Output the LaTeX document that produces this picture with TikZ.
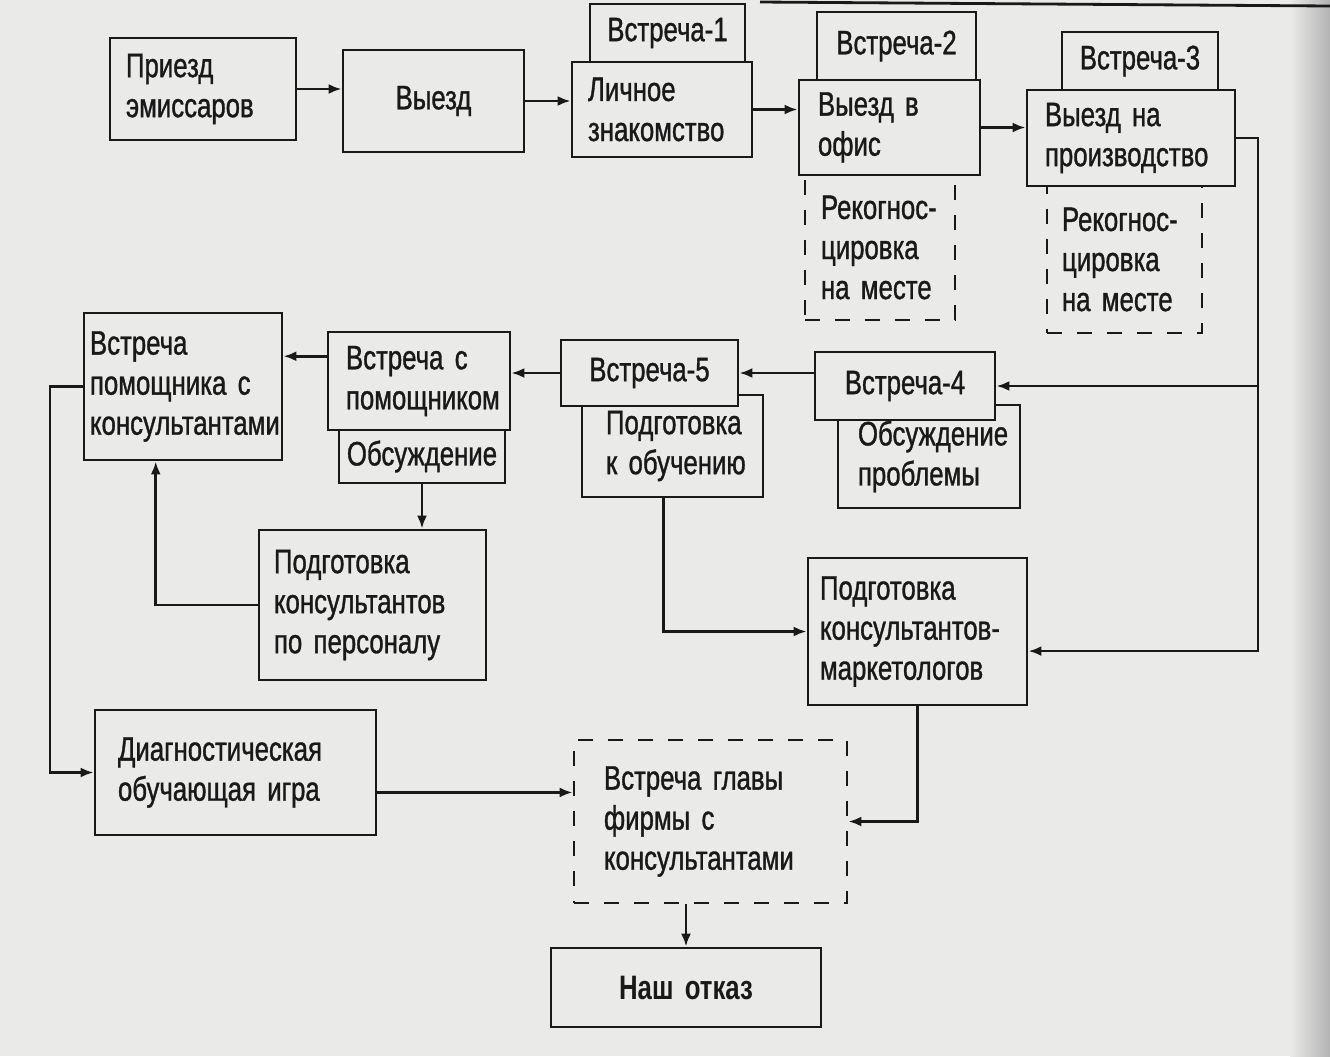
\documentclass[tikz,border=0pt]{standalone}
\usepackage{fontspec}
\setmainfont{Liberation Sans}[FakeStretch=0.76,UprightFeatures={FakeBold=1}]
\usepackage{tikz}
\usetikzlibrary{arrows.meta}
\definecolor{paper}{RGB}{234,234,232}
\definecolor{ink}{RGB}{25,25,25}
\newcommand{\mkbox}[8][]{% #1: extra style, #2: name, #3: x1, #4: y1, #5: x2, #6: y2, #7: inset, #8: text
	\pgfmathsetmacro\bxw{(#5-#3)*0.02}
	\pgfmathsetmacro\bxh{(#6-#4)*0.02}
	\pgfmathsetmacro\bxt{(#5-#3-2*#7)*0.02}
	\node[box,minimum width=\bxw cm,minimum height=\bxh cm,text width=\bxt cm,#1] (#2) at ({(#3+#5)/2},{(#4+#6)/2}) {#8};
}
\tikzset{
	box/.style={draw=ink,line width=1.6pt,fill=paper,text=ink,inner xsep=0pt,inner ysep=0pt,align=left,font=\fontsize{19.3}{22.8}\selectfont},
	dbox/.style={box,dash pattern=on 0.3cm off 0.3cm},
	line/.style={draw=ink,line width=1.6pt}
}

\begin{document}
\begin{tikzpicture}[x=0.02cm,y=-0.02cm,>={Latex[length=0.26cm,width=0.2cm]}]
					% Paper
					\fill[paper] (0,0) rectangle (1330,1056);
					\shade[left color=paper,right color=gray!60] (1290,0) rectangle (1330,1056);
					\useasboundingbox (0,0) rectangle (1330,1056);
					\draw[line] (760,2) -- (1330,6);
					
					% Top row
					\mkbox{priezd}{110}{38}{296}{140}{16}{Приезд\\эмиссаров}
					\mkbox[align=center]{vyezd}{343}{50}{524}{152}{0}{Выезд}
					\mkbox[align=center]{vstr1}{590}{4}{745}{62}{0}{Встреча-1}
					\mkbox{lichnoe}{572}{62}{752}{157}{16}{Личное\\знакомство}
					\mkbox[dbox]{rek1}{805}{175}{955}{320}{16}{Рекогнос-\\цировка\\на~месте}
					\mkbox[align=center]{vstr2}{817}{12}{976}{80}{0}{Встреча-2}
					\mkbox{ofis}{799}{80}{980}{175}{19}{Выезд~в\\офис}
					\mkbox[dbox]{rek2}{1047}{186}{1202}{333}{15}{Рекогнос-\\цировка\\на~месте}
					\mkbox[align=center]{vstr3}{1062}{32}{1218}{90}{0}{Встреча-3}
					\mkbox{proizv}{1027}{90}{1235}{186}{18}{Выезд~на\\производство}
					
					% Middle row
					\mkbox{vpk}{84}{313}{282}{460}{6}{Встреча\\помощника~с\\консультантами}
					\mkbox{vsp}{328}{332}{510}{430}{18}{Встреча~с\\помощником}
					\mkbox[align=center]{obs}{339}{430}{505}{483}{0}{Обсуждение}
					\mkbox{podob}{582}{395}{763}{497}{24}{Подготовка\\к~обучению}
					\mkbox[align=center]{vstr5}{561}{340}{738}{406}{0}{Встреча-5}
					\mkbox{obspr}{838}{405}{1020}{508}{20}{Обсуждение\\проблемы}
					\mkbox[align=center]{vstr4}{815}{352}{995}{420}{0}{Встреча-4}
					
					% Lower rows
					\mkbox{podpers}{259}{530}{486}{680}{15}{Подготовка\\консультантов\\по~персоналу}
					\mkbox{podmark}{808}{558}{1027}{705}{12}{Подготовка\\консультантов-\\маркетологов}
					\mkbox{diag}{95}{710}{376}{835}{23}{Диагностическая\\обучающая~игра}
					\mkbox[dbox]{glava}{574}{740}{847}{903}{30}{Встреча~главы\\фирмы~с\\консультантами}
					\mkbox[align=center]{otkaz}{551}{948}{821}{1027}{0}{\textbf{Наш~отказ}}
					
					% Arrows along the top
					\draw[line,->] (priezd.east) -- (priezd.east -| vyezd.west);
					\draw[line,->] (vyezd.east) -- (vyezd.east -| lichnoe.west);
					\draw[line,->] (lichnoe.east) -- (lichnoe.east -| ofis.west);
					\draw[line,->] (ofis.east) -- (ofis.east -| proizv.west);
					
					% Right return line
					\coordinate (rx) at (1258,0);
					\draw[line,->] (proizv.east) -- (proizv.east -| rx) -- (rx |- podmark.-10) -- (podmark.-10);
					\draw[line,->] (rx |- vstr4.east) -- (vstr4.east);
					
					% Middle arrows
					\draw[line,->] (vstr4.west |- vstr5.east) -- (vstr5.east);
					\draw[line,->] (vstr5.west) -- (vstr5.west -| vsp.east);
					\draw[line,->] (vsp.165) -- (vsp.165 -| vpk.east);
					\draw[line,->] (obs.south) -- (obs.south |- podpers.north);
					\draw[line,->] (podpers.west) -| (vpk.-110);
					\draw[line,->] (podob.-100) |- (podmark.west);
					
					% Left line and bottom
					\coordinate (lx) at (50,0);
					\draw[line,->] (vpk.west) -- (vpk.west -| lx) |- (diag.west);
					\draw[line,->] (podmark.south) |- (glava.east);
					\draw[line,->] (diag.-8) -- (diag.-8 -| glava.west);
					\draw[line,->] (glava.south -| otkaz.north) -- (otkaz.north);
				\end{tikzpicture}
\end{document}
